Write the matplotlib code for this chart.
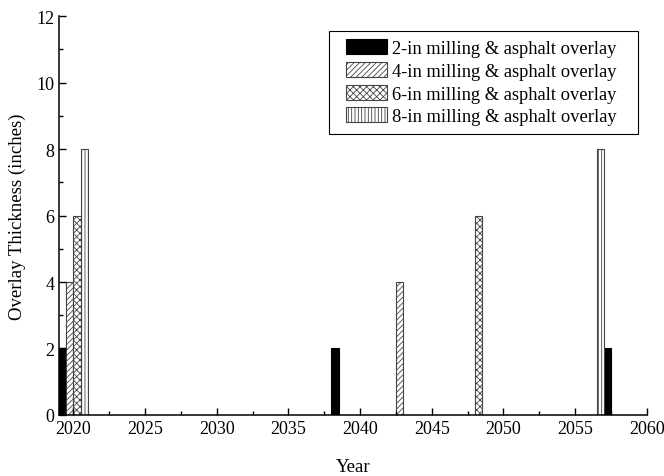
import matplotlib
matplotlib.use("Agg")
import matplotlib.pyplot as plt
from matplotlib.patches import Rectangle
from matplotlib.ticker import MultipleLocator

plt.rcParams['font.family'] = ['Liberation Serif', 'DejaVu Serif']
plt.rcParams['hatch.linewidth'] = 0.6

# data: treatment years and overlay thickness per series
labels = ["2-in milling & asphalt overlay", "4-in milling & asphalt overlay",
          "6-in milling & asphalt overlay", "8-in milling & asphalt overlay"]
years_2in = [2020, 2039, 2058]
years_4in = [2020, 2043]
years_6in = [2020, 2048]
years_8in = [2020, 2056]
thickness = [2, 4, 6, 8]

series = [years_2in, years_4in, years_6in, years_8in]
offsets = [-0.75, -0.25, 0.25, 0.75]  # bars grouped around the year
styles = [dict(color="black", edgecolor="black"),
          dict(color="white", edgecolor="#444444", hatch="//////"),
          dict(color="white", edgecolor="#444444", hatch="xxxxx"),
          dict(color="white", edgecolor="#444444", hatch="|||||")]

W, H = 664, 477
fig = plt.figure(figsize=(W / 100, H / 100), dpi=100)
ax = fig.add_axes([0.089, 0.128, 0.885, 0.836])

for yrs, t, off, st, lab in zip(series, thickness, offsets, styles, labels):
    ax.bar([y + off for y in yrs], [t] * len(yrs), width=0.5, linewidth=0.8,
           label=lab, **st)

ax.set_xlim(2019, 2060)
ax.set_ylim(0, 12)
ax.xaxis.set_major_locator(MultipleLocator(5))
ax.xaxis.set_minor_locator(MultipleLocator(2.5))
ax.yaxis.set_major_locator(MultipleLocator(2))
ax.yaxis.set_minor_locator(MultipleLocator(1))
ax.tick_params(which='both', direction='in', labelsize=13, width=1)
ax.tick_params(which='major', length=5)
ax.tick_params(which='minor', length=3)
ax.spines['top'].set_visible(False)
ax.spines['right'].set_visible(False)
ax.spines['left'].set_linewidth(1.1)
ax.spines['bottom'].set_linewidth(1.1)

ax.set_xlabel("Year", fontsize=13.5, labelpad=15)
ax.set_ylabel("Overlay Thickness (inches)", fontsize=13.5, labelpad=7)

# legend without its own frame; a wider box is drawn round it afterwards
leg = ax.legend(loc="upper left", bbox_to_anchor=(338 / W, 1 - 32 / H),
                bbox_transform=fig.transFigure, borderaxespad=0,
                fontsize=13.3, frameon=False,
                handlelength=2.2, handleheight=0.87, handletextpad=0.28,
                labelspacing=0.26, borderpad=0.45)

fig.canvas.draw()
ext = leg.get_window_extent()
box = Rectangle((329 / W, ext.y0 / H), (638 - 329) / W, ext.height / H,
                transform=fig.transFigure, fill=False, edgecolor="black",
                linewidth=0.8)
fig.add_artist(box)

fig.savefig("out.png", dpi=100)
